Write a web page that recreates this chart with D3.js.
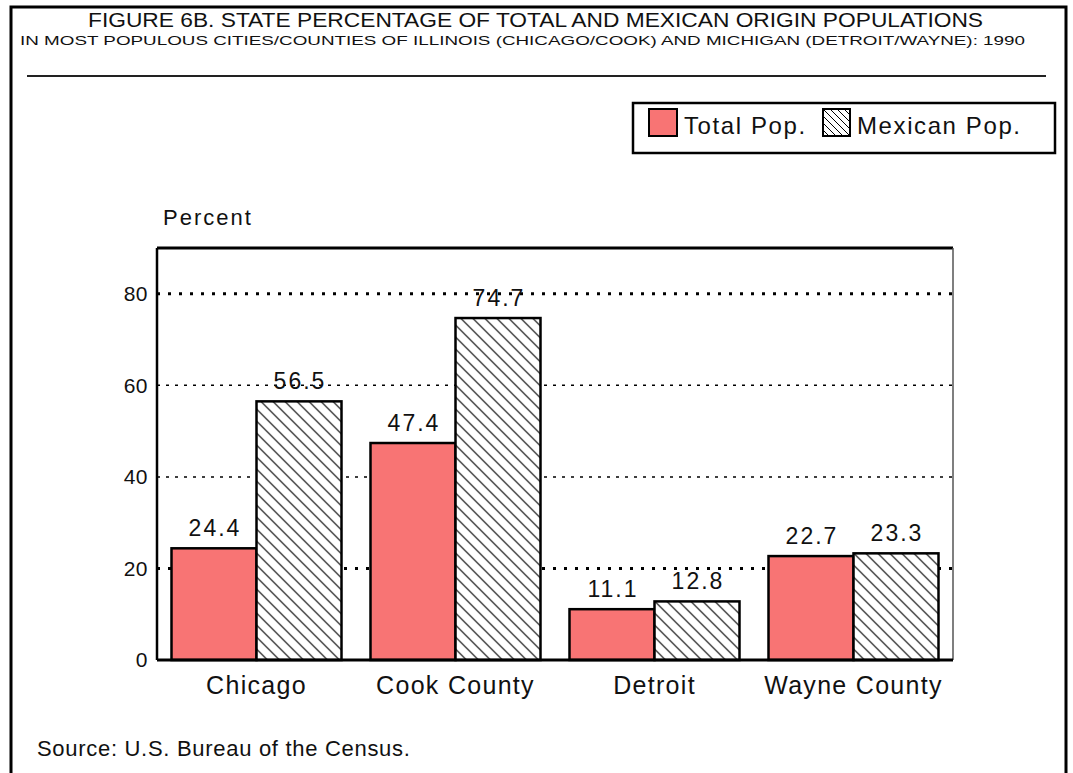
<!DOCTYPE html>
<html>
<head>
<meta charset="utf-8">
<script src="https://cdn.jsdelivr.net/npm/d3@7"></script>
<style>
  body { margin: 0; background: #fff; }
  text { font-family: "Liberation Sans", Arial, sans-serif; fill: #111; }
</style>
</head>
<body>
<div id="chart"></div>
<script>
var w = 1073, h = 773;

// data
var places = ["Chicago", "Cook County", "Detroit", "Wayne County"];
var series = ["Total Pop.", "Mexican Pop."];
var totalPop = [24.4, 47.4, 11.1, 22.7];
var mexicanPop = [56.5, 74.7, 12.8, 23.3];
var yTicks = [0, 20, 40, 60, 80];

var svg = d3.select("#chart").append("svg")
    .attr("width", w)
    .attr("height", h);

var defs = svg.append("defs");
var hatch = defs.append("pattern")
    .attr("id", "hatch")
    .attr("patternUnits", "userSpaceOnUse")
    .attr("width", 12)
    .attr("height", 12);
hatch.append("rect").attr("width", 12).attr("height", 12).attr("fill", "#fff");
hatch.append("path")
    .attr("d", "M-1,-1L13,13M-1,11L1,13M11,-1L13,1")
    .attr("stroke", "#000")
    .attr("stroke-width", 1.1);

var hatchSmall = defs.append("pattern")
    .attr("id", "hatchSmall")
    .attr("patternUnits", "userSpaceOnUse")
    .attr("width", 7)
    .attr("height", 7);
hatchSmall.append("rect").attr("width", 7).attr("height", 7).attr("fill", "#fff");
hatchSmall.append("path")
    .attr("d", "M-1,-1L8,8M-1,6L1,8M6,-1L8,1")
    .attr("stroke", "#000")
    .attr("stroke-width", 1);

var red = "#f87474";

// outer frame (no bottom edge)
svg.append("path")
    .attr("d", "M11,773V7H1066V773")
    .attr("fill", "none")
    .attr("stroke", "#000")
    .attr("stroke-width", 3);

// titles
svg.append("text")
    .attr("x", 88).attr("y", 27)
    .attr("font-size", 20)
    .attr("textLength", 895)
    .attr("lengthAdjust", "spacingAndGlyphs")
    .text("FIGURE 6B.  STATE PERCENTAGE OF TOTAL AND MEXICAN ORIGIN POPULATIONS");
svg.append("text")
    .attr("x", 20).attr("y", 45)
    .attr("font-size", 13)
    .attr("textLength", 1005)
    .attr("lengthAdjust", "spacingAndGlyphs")
    .text("IN MOST POPULOUS CITIES/COUNTIES OF ILLINOIS (CHICAGO/COOK) AND MICHIGAN (DETROIT/WAYNE): 1990");
svg.append("line")
    .attr("x1", 27).attr("x2", 1046)
    .attr("y1", 76).attr("y2", 76)
    .attr("stroke", "#222").attr("stroke-width", 2);

// legend
var lg = svg.append("g");
lg.append("rect")
    .attr("x", 633).attr("y", 103)
    .attr("width", 422).attr("height", 50)
    .attr("fill", "#fff").attr("stroke", "#000").attr("stroke-width", 2.5);
lg.append("rect")
    .attr("x", 649).attr("y", 109).attr("width", 28).attr("height", 27)
    .attr("fill", red).attr("stroke", "#000").attr("stroke-width", 2);
lg.append("text").attr("x", 684).attr("y", 134).attr("font-size", 24)
    .attr("letter-spacing", 1.6).text(series[0]);
lg.append("rect")
    .attr("x", 823).attr("y", 109).attr("width", 27).attr("height", 27)
    .attr("fill", "url(#hatchSmall)").attr("stroke", "#000").attr("stroke-width", 2);
lg.append("text").attr("x", 857).attr("y", 134).attr("font-size", 24)
    .attr("letter-spacing", 1.6).text(series[1]);

// plot area
var pl = 157, pr = 953, pt = 248, pb = 660;

var x = d3.scaleBand()
    .domain(places)
    .range([pl, pr])
    .paddingInner(29 / 199)
    .paddingOuter(29 / 398);

var y = d3.scaleLinear()
    .domain([0, 90])
    .range([pb, pt]);

// gridlines
svg.append("g").selectAll("line")
    .data(yTicks.filter(function (d) { return d > 0; }))
    .join("line")
    .attr("x1", pl).attr("x2", pr)
    .attr("y1", function (d) { return y(d); })
    .attr("y2", function (d) { return y(d); })
    .attr("stroke", "#000")
    .attr("stroke-width", function (d) { return (d === 20 || d === 80) ? 3 : 1.5; })
    .attr("stroke-dasharray", function (d) { return (d === 20 || d === 80) ? "3,8" : "3,6"; });

// bars
var bw = x.bandwidth() / 2;
var groups = svg.append("g").selectAll("g")
    .data(places)
    .join("g")
    .attr("transform", function (d) { return "translate(" + x(d) + ",0)"; });

groups.append("rect")
    .attr("x", 0)
    .attr("y", function (d, i) { return y(totalPop[i]); })
    .attr("width", bw)
    .attr("height", function (d, i) { return y(0) - y(totalPop[i]); })
    .attr("fill", red)
    .attr("stroke", "#000")
    .attr("stroke-width", 2.5);

groups.append("rect")
    .attr("x", bw)
    .attr("y", function (d, i) { return y(mexicanPop[i]); })
    .attr("width", bw)
    .attr("height", function (d, i) { return y(0) - y(mexicanPop[i]); })
    .attr("fill", "url(#hatch)")
    .attr("stroke", "#000")
    .attr("stroke-width", 2.5);

groups.append("text")
    .attr("x", bw / 2 + 1)
    .attr("y", function (d, i) { return y(totalPop[i]) - 12; })
    .attr("text-anchor", "middle")
    .attr("font-size", 23)
    .attr("letter-spacing", 2)
    .text(function (d, i) { return totalPop[i].toFixed(1); });

groups.append("text")
    .attr("x", bw * 1.5 + 1)
    .attr("y", function (d, i) { return y(mexicanPop[i]) - 12; })
    .attr("text-anchor", "middle")
    .attr("font-size", 23)
    .attr("letter-spacing", 2)
    .text(function (d, i) { return mexicanPop[i].toFixed(1); });

// frame of plot
svg.append("line")
    .attr("x1", pl).attr("x2", pr).attr("y1", pt).attr("y2", pt)
    .attr("stroke", "#000").attr("stroke-width", 3);
svg.append("line")
    .attr("x1", pr).attr("x2", pr).attr("y1", pt).attr("y2", pb)
    .attr("stroke", "#555").attr("stroke-width", 1.5);

// axes
var yAxis = svg.append("g")
    .attr("transform", "translate(" + pl + ",0)")
    .call(d3.axisLeft(y).tickValues(yTicks).tickSize(0).tickPadding(9));
yAxis.select(".domain").attr("stroke", "#000").attr("stroke-width", 2.5)
    .attr("d", "M0," + pt + "V" + pb);
yAxis.selectAll("text")
    .attr("font-size", 21)
    .attr("letter-spacing", 0.5)
    .attr("font-family", "Liberation Sans, Arial, sans-serif")
    .attr("fill", "#111");

var xAxis = svg.append("g")
    .attr("transform", "translate(0," + pb + ")")
    .call(d3.axisBottom(x).tickSize(0).tickPadding(16));
xAxis.select(".domain").attr("stroke", "#000").attr("stroke-width", 3)
    .attr("d", "M" + pl + ",0H" + pr);
xAxis.selectAll("text")
    .attr("font-size", 25)
    .attr("letter-spacing", 1.3)
    .attr("font-family", "Liberation Sans, Arial, sans-serif")
    .attr("fill", "#111");

svg.append("text")
    .attr("x", 163).attr("y", 225)
    .attr("font-size", 22)
    .attr("letter-spacing", 2)
    .text("Percent");

svg.append("text")
    .attr("x", 37).attr("y", 756)
    .attr("font-size", 22)
    .attr("letter-spacing", 0.7)
    .text("Source: U.S. Bureau of the Census.");
</script>
</body>
</html>
